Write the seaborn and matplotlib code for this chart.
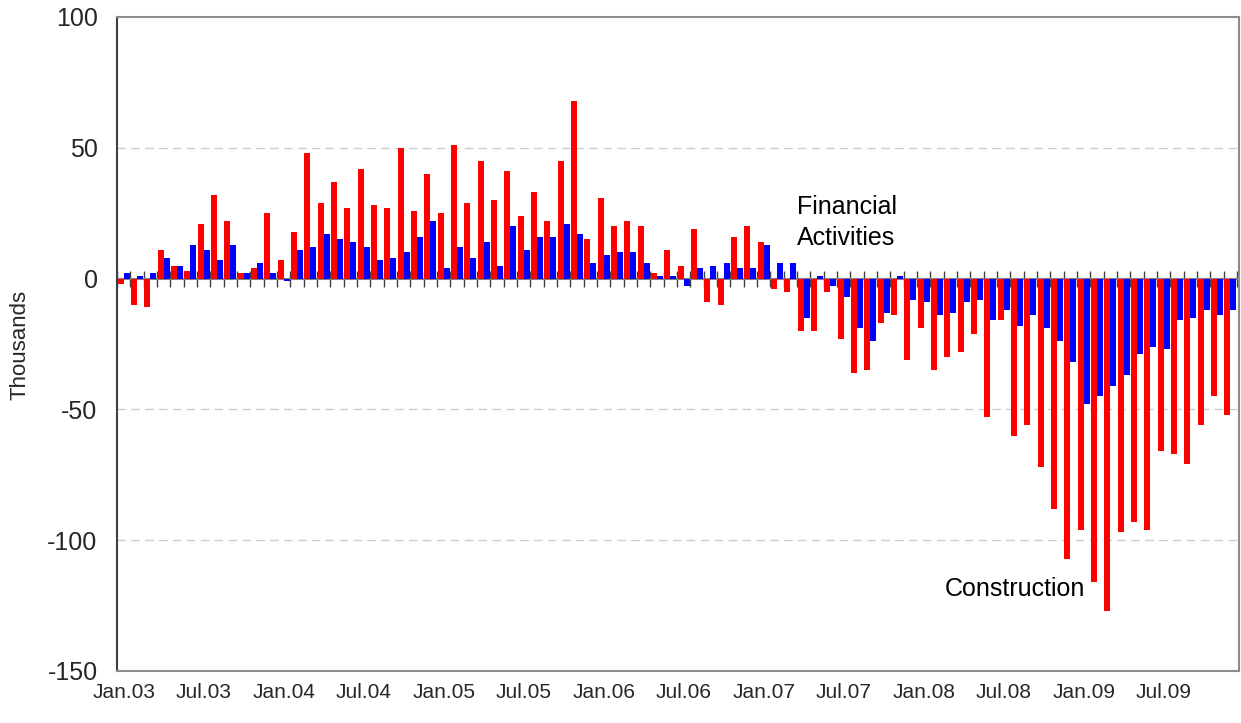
import numpy as np
import pandas as pd
import matplotlib
matplotlib.use('Agg')
import matplotlib.pyplot as plt
import seaborn as sns

# monthly change, thousands, Jan.03 .. Dec.09
construction = [
    -2, -10, -11, 11, 5, 3, 21, 32, 22, 2, 4, 25,
    7, 18, 48, 29, 37, 27, 42, 28, 27, 50, 26, 40,
    25, 51, 29, 45, 30, 41, 24, 33, 22, 45, 68, 15,
    31, 20, 22, 20, 2, 11, 5, 19, -9, -10, 16, 20,
    14, -4, -5, -20, -20, -5, -23, -36, -35, -17, -14, -31,
    -19, -35, -30, -28, -21, -53, -16, -60, -56, -72, -88, -107,
    -96, -116, -127, -97, -93, -96, -66, -67, -71, -56, -45, -52,
]
financial = [
    2, 1, 2, 8, 5, 13, 11, 7, 13, 2, 6, 2,
    -1, 11, 12, 17, 15, 14, 12, 7, 8, 10, 16, 22,
    4, 12, 8, 14, 5, 20, 11, 16, 16, 21, 17, 6,
    9, 10, 10, 6, 1, 1, -3, 4, 5, 6, 4, 4,
    13, 6, 6, -15, 1, -3, -7, -19, -24, -13, 1, -8,
    -9, -14, -13, -9, -8, -16, -12, -18, -14, -19, -24, -32,
    -48, -45, -41, -37, -29, -26, -27, -16, -15, -12, -14, -12,
]
months = [d.strftime('%b.%y') for d in pd.date_range('2003-01-01', periods=84, freq='MS')]
tick_labels = ['Jan.03', 'Jul.03', 'Jan.04', 'Jul.04', 'Jan.05', 'Jul.05', 'Jan.06',
               'Jul.06', 'Jan.07', 'Jul.07', 'Jan.08', 'Jul.08', 'Jan.09', 'Jul.09']
series_names = ['Construction', 'Financial Activities']
colors = {'Construction': '#FF0000', 'Financial Activities': '#0000FF'}

df = pd.DataFrame({
    'month': months * 2,
    'series': [series_names[0]] * len(months) + [series_names[1]] * len(months),
    'value': construction + financial,
})

sns.set_style('white')
plt.rcParams['font.family'] = ['Liberation Sans', 'DejaVu Sans']
plt.rcParams['axes.unicode_minus'] = False

fig = plt.figure(figsize=(12.41, 7.23), dpi=100)
ax = fig.add_axes([117 / 1241, 1 - 671 / 723, 1122 / 1241, 654 / 723])

sns.barplot(data=df, x='month', y='value', hue='series', hue_order=series_names,
            palette=colors, order=months, width=0.9, saturation=1, legend=False,
            linewidth=0, ax=ax)

ax.set_xlim(-0.5, 83.65)
ax.set_ylim(-150, 100)
ax.set_yticks([100, 50, 0, -50, -100, -150])
ax.tick_params(axis='y', direction='out', length=6, width=1, color='#404040',
               labelsize=18, pad=8)
ax.set_xticks([months.index(t) for t in tick_labels])
ax.set_xticklabels(tick_labels)
ax.tick_params(axis='x', length=0, labelsize=15, pad=9)
ax.set_xlabel('')
ax.set_ylabel('')

# dashed grid behind bars
ax.set_axisbelow(True)
for v in [50, -50, -100]:
    ax.axhline(v, color='#cccccc', lw=1, ls=(0, (6, 4)), zorder=0)

for side in ['top', 'right', 'bottom']:
    ax.spines[side].set_color('#8c8c8c')
    ax.spines[side].set_linewidth(1.5)
ax.spines['left'].set_color('#404040')
ax.spines['left'].set_linewidth(1.5)

# category axis crossing at zero, with cross tick marks between months
zero = ax.secondary_xaxis(150 / 250)
zero.set_xticks(np.arange(-0.5, 84, 1))
zero.set_xticklabels([])
zero.tick_params(direction='inout', length=11, width=1, color='#404040')
for s in zero.spines.values():
    s.set_color('#808080')
    s.set_linewidth(1.5)

ax.text(50.5, 31.9, 'Financial\nActivities', fontsize=18, ha='left', va='top',
        linespacing=1.35, color='black')
ax.text(61.6, -121.5, 'Construction', fontsize=18, ha='left', va='baseline',
        color='black')

fig.text(20 / 1241, 1 - 345 / 723, 'Thousands', rotation=90, fontsize=16,
         ha='center', va='center')

fig.savefig('out.png', dpi=100)
